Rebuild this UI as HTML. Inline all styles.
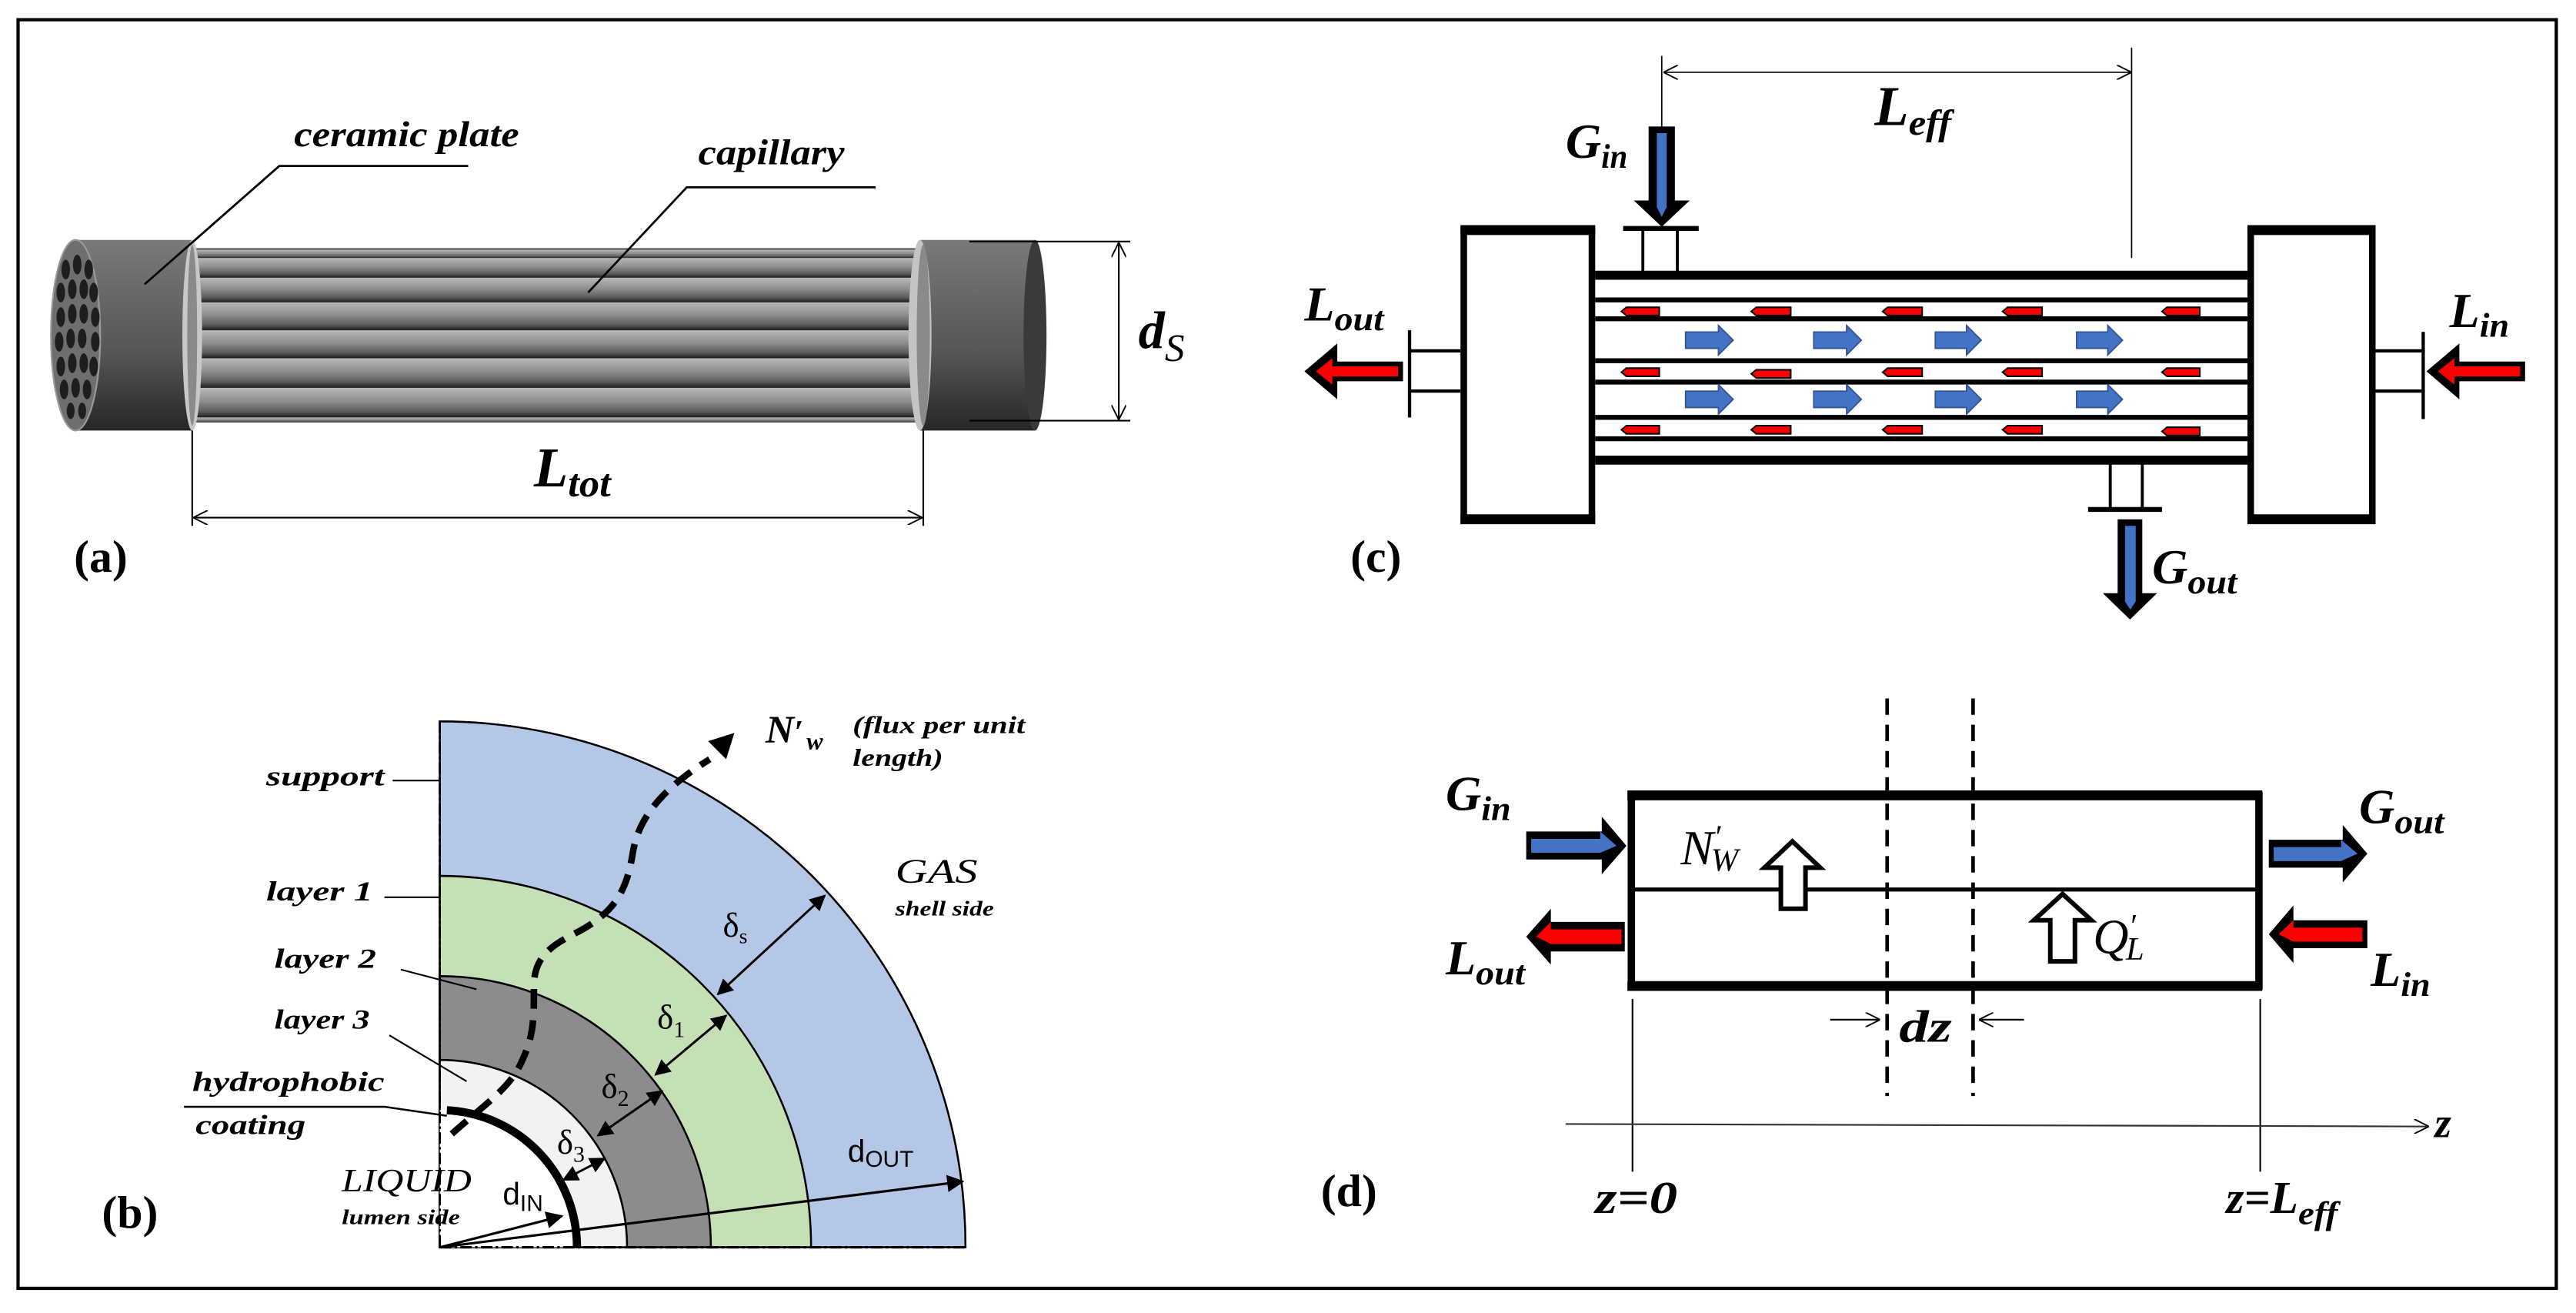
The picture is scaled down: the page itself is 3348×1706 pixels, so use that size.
<!DOCTYPE html>
<html><head><meta charset="utf-8"><style>
html,body{margin:0;padding:0;background:#fff;}
svg{display:block;}
text{font-family:"Liberation Serif",serif;}
.bi{font-style:italic;font-weight:bold;}
.it{font-style:italic;}
.sans{font-family:"Liberation Sans",sans-serif;}
</style></head><body>
<svg width="3348" height="1706" viewBox="0 0 1568 799" preserveAspectRatio="none" xmlns="http://www.w3.org/2000/svg">
<defs>
<linearGradient id="tube" x1="0" y1="0" x2="0" y2="1">
<stop offset="0" stop-color="#b8b8b8"/><stop offset="0.45" stop-color="#8e8e8e"/><stop offset="0.8" stop-color="#5c5c5c"/><stop offset="1" stop-color="#1c1c1c"/></linearGradient>
<linearGradient id="plate" x1="0" y1="0" x2="0" y2="1">
<stop offset="0" stop-color="#7a7a7a"/><stop offset="0.6" stop-color="#555"/><stop offset="1" stop-color="#262626"/></linearGradient>
<marker id="ah" viewBox="0 0 10 10" refX="9" refY="5" markerWidth="7" markerHeight="7" orient="auto-start-reverse"><path d="M0,0 L10,5 L0,10 z" fill="#000"/></marker>
<marker id="oa" viewBox="0 0 10 10" refX="9.5" refY="5" markerWidth="9" markerHeight="9" orient="auto-start-reverse" markerUnits="userSpaceOnUse"><path d="M0,0 L10,5 L0,10" fill="none" stroke="#000" stroke-width="1"/></marker>
</defs>
<rect x="0" y="0" width="1568" height="799" fill="#fff"/>
<rect x="11" y="12" width="1545" height="772" fill="none" stroke="#000" stroke-width="2"/>

<!-- Panel (a) -->
<g>
<rect x="117" y="151" width="457" height="106" fill="#555"/>
<rect x="117" y="152" width="457" height="5" fill="url(#tube)"/>
<rect x="117" y="157" width="457" height="12" fill="url(#tube)"/>
<rect x="117" y="169" width="457" height="15" fill="url(#tube)"/>
<rect x="117" y="184" width="457" height="17" fill="url(#tube)"/>
<rect x="117" y="201" width="457" height="17" fill="url(#tube)"/>
<rect x="117" y="218" width="457" height="18" fill="url(#tube)"/>
<rect x="117" y="236" width="457" height="18" fill="url(#tube)"/>
<rect x="117" y="254" width="457" height="3" fill="url(#tube)"/>
<!-- left plate -->
<rect x="46" y="146" width="71" height="116" fill="url(#plate)"/>
<ellipse cx="117" cy="204" rx="6" ry="58" fill="#c8c8c8"/>
<ellipse cx="117" cy="204" rx="3" ry="55" fill="#8a8a8a"/>
<ellipse cx="46" cy="204" rx="15" ry="58" fill="#6e6e6e" stroke="#9a9a9a" stroke-width="1"/>
<g fill="#1e1e1e">
<ellipse cx="40" cy="164" rx="2.6" ry="6"/><ellipse cx="47" cy="161" rx="2.6" ry="6"/><ellipse cx="54" cy="164" rx="2.6" ry="6"/>
<ellipse cx="37" cy="178" rx="2.6" ry="6"/><ellipse cx="44" cy="176" rx="2.6" ry="6"/><ellipse cx="51" cy="176" rx="2.6" ry="6"/><ellipse cx="57" cy="178" rx="2.6" ry="6"/>
<ellipse cx="37" cy="193" rx="2.6" ry="6"/><ellipse cx="44" cy="191" rx="2.6" ry="6"/><ellipse cx="51" cy="191" rx="2.6" ry="6"/><ellipse cx="58" cy="193" rx="2.6" ry="6"/>
<ellipse cx="36" cy="208" rx="2.6" ry="6"/><ellipse cx="43" cy="206" rx="2.6" ry="6"/><ellipse cx="50" cy="206" rx="2.6" ry="6"/><ellipse cx="58" cy="208" rx="2.6" ry="6"/>
<ellipse cx="37" cy="223" rx="2.6" ry="6"/><ellipse cx="44" cy="221" rx="2.6" ry="6"/><ellipse cx="51" cy="221" rx="2.6" ry="6"/><ellipse cx="57" cy="223" rx="2.6" ry="6"/>
<ellipse cx="39" cy="237" rx="2.6" ry="6"/><ellipse cx="46" cy="236" rx="2.6" ry="6"/><ellipse cx="53" cy="237" rx="2.6" ry="6"/>
<ellipse cx="43" cy="250" rx="2.4" ry="5"/><ellipse cx="50" cy="250" rx="2.4" ry="5"/>
</g>
<!-- right plate -->
<rect x="560" y="146" width="70" height="116" fill="url(#plate)"/>
<ellipse cx="630" cy="204" rx="7" ry="58" fill="#3a3a3a"/>
<ellipse cx="560" cy="204" rx="7" ry="58" fill="#c4c4c4"/>
<ellipse cx="562" cy="204" rx="4" ry="55" fill="#8a8a8a"/>
<!-- leaders -->
<polyline points="285,101 170,101 88,173" fill="none" stroke="#000" stroke-width="1.3"/>
<polyline points="533,114 418,114 358,178" fill="none" stroke="#000" stroke-width="1.3"/>
<text x="179" y="89" class="bi" font-size="22" textLength="137" lengthAdjust="spacingAndGlyphs">ceramic plate</text>
<text x="425" y="100" class="bi" font-size="22" textLength="89" lengthAdjust="spacingAndGlyphs">capillary</text>
<!-- ds -->
<line x1="590" y1="147" x2="688" y2="147" stroke="#000" stroke-width="1"/>
<line x1="590" y1="256" x2="688" y2="256" stroke="#000" stroke-width="1"/>
<line x1="681" y1="148" x2="681" y2="255" stroke="#000" stroke-width="1" marker-start="url(#oa)" marker-end="url(#oa)"/>
<text x="693" y="212" class="bi" font-size="32">d<tspan class="it" font-weight="normal" font-size="24" dy="8">S</tspan></text>
<!-- Ltot -->
<line x1="117" y1="262" x2="117" y2="320" stroke="#000" stroke-width="1"/>
<line x1="562" y1="262" x2="562" y2="320" stroke="#000" stroke-width="1"/>
<line x1="118" y1="315" x2="561" y2="315" stroke="#000" stroke-width="1" marker-start="url(#oa)" marker-end="url(#oa)"/>
<text x="325" y="296" class="bi" font-size="34">L<tspan font-size="24" dy="6" textLength="26" lengthAdjust="spacingAndGlyphs">tot</tspan></text>
<text x="45" y="348" font-size="28" font-weight="bold">(a)</text>
</g>

<!-- Panel (b) -->
<g>
<path d="M267.7,759 L267.7,439 A320,320 0 0 1 587.7,759 Z" fill="#b4c7e7" stroke="#000" stroke-width="1.2"/>
<path d="M267.7,759 L267.7,533 A226,226 0 0 1 493.7,759 Z" fill="#c5e0b4" stroke="#000" stroke-width="1.2"/>
<path d="M267.7,759 L267.7,594 A165,165 0 0 1 432.7,759 Z" fill="#8c8c8c" stroke="#000" stroke-width="1.2"/>
<path d="M267.7,759 L267.7,645 A114,114 0 0 1 381.7,759 Z" fill="#f2f2f2" stroke="#000" stroke-width="1.2"/>
<path d="M267.7,759 L267.7,675.5 A83.5,83.5 0 0 1 351.2,759 Z" fill="#fff" stroke="none"/>
<path d="M272,675.6 A83.5,83.5 0 0 1 351.2,759" fill="none" stroke="#000" stroke-width="5"/>
<line x1="267.7" y1="439" x2="267.7" y2="759" stroke="#000" stroke-width="1.3" stroke-dasharray="7 2 1.5 2"/>
<line x1="267.7" y1="759" x2="588" y2="759" stroke="#000" stroke-width="1.5" stroke-dasharray="7 2 1.5 2"/>
<!-- flux path -->
<path d="M275,690 C295,672 311,662 318,645 C325,630 325,620 325,600 C325,582 336,575 352,567 C372,556 381,545 385,520 C388,500 400,482 432,462" fill="none" stroke="#000" stroke-width="4" stroke-dasharray="12 7"/>
<polygon points="447,446 442,462 431,451" fill="#000"/>
<text x="466" y="452" class="bi" font-size="24">N<tspan font-size="20">′</tspan><tspan font-size="15" dy="4" dx="2">w</tspan></text>
<text x="519" y="446" class="bi" font-size="15" textLength="105" lengthAdjust="spacingAndGlyphs">(flux per unit</text>
<text x="519" y="466" class="bi" font-size="15" textLength="55" lengthAdjust="spacingAndGlyphs">length)</text>
<!-- leaders -->
<line x1="239" y1="475" x2="268" y2="475" stroke="#000" stroke-width="1"/>
<line x1="234" y1="546" x2="268" y2="546" stroke="#000" stroke-width="1"/>
<line x1="244" y1="590" x2="290" y2="602" stroke="#000" stroke-width="1"/>
<line x1="237" y1="630" x2="284" y2="658" stroke="#000" stroke-width="1"/>
<polyline points="112,673.5 234,673.5 272,679" fill="none" stroke="#000" stroke-width="1.2"/>
<text x="162" y="478" class="bi" font-size="17" textLength="72" lengthAdjust="spacingAndGlyphs">support</text>
<text x="162" y="548" class="bi" font-size="17" textLength="65" lengthAdjust="spacingAndGlyphs">layer 1</text>
<text x="167" y="589" class="bi" font-size="17" textLength="62" lengthAdjust="spacingAndGlyphs">layer 2</text>
<text x="167" y="626" class="bi" font-size="17" textLength="58" lengthAdjust="spacingAndGlyphs">layer 3</text>
<text x="117" y="664" class="bi" font-size="17" textLength="117" lengthAdjust="spacingAndGlyphs">hydrophobic</text>
<text x="119" y="690" class="bi" font-size="17" textLength="67" lengthAdjust="spacingAndGlyphs">coating</text>
<text x="545" y="537" class="it" font-size="21" textLength="50" lengthAdjust="spacingAndGlyphs">GAS</text>
<text x="545" y="557" class="bi" font-size="13" textLength="60" lengthAdjust="spacingAndGlyphs">shell side</text>
<text x="208" y="725" class="it" font-size="20" textLength="79" lengthAdjust="spacingAndGlyphs">LIQUID</text>
<text x="208" y="745" class="bi" font-size="13" textLength="72" lengthAdjust="spacingAndGlyphs">lumen side</text>
<!-- delta arrows -->
<line x1="502" y1="545" x2="437" y2="605" stroke="#000" stroke-width="1.4" marker-start="url(#ah)" marker-end="url(#ah)"/>
<line x1="442" y1="618" x2="399" y2="654" stroke="#000" stroke-width="1.4" marker-start="url(#ah)" marker-end="url(#ah)"/>
<line x1="403" y1="664" x2="364" y2="691" stroke="#000" stroke-width="1.4" marker-start="url(#ah)" marker-end="url(#ah)"/>
<line x1="368" y1="705" x2="343" y2="718" stroke="#000" stroke-width="1.4" marker-start="url(#ah)" marker-end="url(#ah)"/>
<text x="440" y="570" font-size="21">δ<tspan font-size="13" dy="4">s</tspan></text>
<text x="400" y="626" font-size="21">δ<tspan font-size="14" dy="5">1</tspan></text>
<text x="366" y="668" font-size="21">δ<tspan font-size="14" dy="5">2</tspan></text>
<text x="339" y="702" font-size="21">δ<tspan font-size="14" dy="5">3</tspan></text>
<line x1="268" y1="759" x2="586" y2="719" stroke="#000" stroke-width="1.5" marker-end="url(#ah)"/>
<line x1="268" y1="759" x2="342" y2="740" stroke="#000" stroke-width="1.5" marker-end="url(#ah)"/>
<text x="516" y="707" class="sans" font-size="19">d<tspan font-size="14" dy="3">OUT</tspan></text>
<text x="306" y="733" class="sans" font-size="19">d<tspan font-size="14" dy="4">IN</tspan></text>
<text x="62" y="747" font-size="28" font-weight="bold">(b)</text>
</g>

<!-- Panel (c) -->
<g>
<!-- Leff -->
<line x1="1011.5" y1="34" x2="1011.5" y2="77" stroke="#000" stroke-width="0.8"/>
<line x1="1297.5" y1="29" x2="1297.5" y2="157" stroke="#000" stroke-width="0.8"/>
<line x1="1013" y1="44" x2="1297" y2="44" stroke="#000" stroke-width="0.8" marker-start="url(#oa)" marker-end="url(#oa)"/>
<text x="1141" y="76" class="bi" font-size="34">L<tspan font-size="22" dy="6" textLength="26" lengthAdjust="spacingAndGlyphs">eff</tspan></text>
<!-- headers -->
<rect x="891" y="140" width="78" height="176" fill="#fff" stroke="#000" stroke-width="4"/>
<line x1="889" y1="140" x2="971" y2="140" stroke="#000" stroke-width="6"/>
<line x1="889" y1="316" x2="971" y2="316" stroke="#000" stroke-width="6"/>
<rect x="1370" y="140" width="74" height="176" fill="#fff" stroke="#000" stroke-width="4"/>
<line x1="1368" y1="140" x2="1446" y2="140" stroke="#000" stroke-width="6"/>
<line x1="1368" y1="316" x2="1446" y2="316" stroke="#000" stroke-width="6"/>
<!-- shell lines -->
<g stroke="#000">
<line x1="971" y1="167.5" x2="1368" y2="167.5" stroke-width="5.5"/>
<line x1="971" y1="182.5" x2="1368" y2="182.5" stroke-width="3"/>
<line x1="971" y1="194" x2="1368" y2="194" stroke-width="3"/>
<line x1="971" y1="219.5" x2="1368" y2="219.5" stroke-width="3"/>
<line x1="971" y1="232.5" x2="1368" y2="232.5" stroke-width="3"/>
<line x1="971" y1="254" x2="1368" y2="254" stroke-width="3"/>
<line x1="971" y1="267" x2="1368" y2="267" stroke-width="3"/>
<line x1="971" y1="280" x2="1368" y2="280" stroke-width="5.5"/>
</g>
<!-- Gin nozzle -->
<line x1="1000" y1="139" x2="1000" y2="165" stroke="#000" stroke-width="1.8"/>
<line x1="1021" y1="139" x2="1021" y2="165" stroke="#000" stroke-width="1.8"/>
<line x1="988" y1="139" x2="1034" y2="139" stroke="#000" stroke-width="3"/>
<!-- Gout nozzle -->
<line x1="1284.5" y1="282" x2="1284.5" y2="309" stroke="#000" stroke-width="1.8"/>
<line x1="1304" y1="282" x2="1304" y2="309" stroke="#000" stroke-width="1.8"/>
<line x1="1271" y1="310" x2="1316" y2="310" stroke="#000" stroke-width="3"/>
<!-- side nozzles -->
<line x1="858" y1="213.5" x2="889" y2="213.5" stroke="#000" stroke-width="2"/>
<line x1="858" y1="238" x2="889" y2="238" stroke="#000" stroke-width="2"/>
<line x1="858" y1="201" x2="858" y2="254" stroke="#000" stroke-width="2"/>
<line x1="1446" y1="213.5" x2="1476" y2="213.5" stroke="#000" stroke-width="2"/>
<line x1="1446" y1="238" x2="1476" y2="238" stroke="#000" stroke-width="2"/>
<line x1="1475" y1="202" x2="1475" y2="255" stroke="#000" stroke-width="2"/>
<!-- Gin arrow (down) -->
<polygon points="1003.5,77 1019.5,77 1019.5,122 1028.5,122 1011.5,138 994.5,122 1003.5,122" fill="#000"/>
<polygon points="1008.5,81 1014.5,81 1014.5,126 1011.5,132 1008.5,126" fill="#4472c4"/>
<!-- Gout arrow (down) -->
<polygon points="1289,316 1304,316 1304,361 1313,361 1296.5,377 1280,361 1289,361" fill="#000"/>
<polygon points="1293.5,320 1300,320 1300,366 1296.7,371 1293.5,366" fill="#4472c4"/>
<!-- Lout arrow (left) -->
<polygon points="854,220 814,220 814,209 794,226 814,243 814,232 854,232" fill="#000"/>
<polygon points="851,223 811,223 811,218 801,226 811,234 811,229 851,229" fill="#ff0000"/>
<!-- Lin arrow (left) -->
<polygon points="1537,220 1497,220 1497,209 1477,226 1497,243 1497,232 1537,232" fill="#000"/>
<polygon points="1534,223 1494,223 1494,218 1484,226 1494,234 1494,229 1534,229" fill="#ff0000"/>
<!-- red small arrows -->
<g id="reds" fill="#ff0000" stroke="#000" stroke-width="1">
<polygon points="990,187 1010,187 1010,192 990,192 987,189.5"/>
<polygon points="1069,187 1090,187 1090,192 1069,192 1066,189.5"/>
<polygon points="1149,187 1170,187 1170,192 1149,192 1146,189.5"/>
<polygon points="1222,187 1243,187 1243,192 1222,192 1219,189.5"/>
<polygon points="1319,187 1339,187 1339,192 1319,192 1316,189.5"/>
<polygon points="990,224 1010,224 1010,229 990,229 987,226.5"/>
<polygon points="1069,225 1090,225 1090,230 1069,230 1066,227.5"/>
<polygon points="1149,224 1170,224 1170,229 1149,229 1146,226.5"/>
<polygon points="1222,224 1243,224 1243,229 1222,229 1219,226.5"/>
<polygon points="1319,224 1339,224 1339,229 1319,229 1316,226.5"/>
<polygon points="990,259 1010,259 1010,264 990,264 987,261.5"/>
<polygon points="1069,259 1090,259 1090,264 1069,264 1066,261.5"/>
<polygon points="1149,259 1170,259 1170,264 1149,264 1146,261.5"/>
<polygon points="1222,259 1243,259 1243,264 1222,264 1219,261.5"/>
<polygon points="1319,260 1339,260 1339,265 1319,265 1316,262.5"/>
</g>
<!-- blue arrows -->
<g fill="#4472c4" stroke="#2f528f" stroke-width="0.8">
<polygon points="1026,202 1046,202 1046,198 1055,207 1046,216 1046,212 1026,212"/>
<polygon points="1104,202 1124,202 1124,198 1133,207 1124,216 1124,212 1104,212"/>
<polygon points="1178,202 1197,202 1197,198 1206,207 1197,216 1197,212 1178,212"/>
<polygon points="1264,202 1283,202 1283,198 1292,207 1283,216 1283,212 1264,212"/>
<polygon points="1026,238 1046,238 1046,234 1055,243 1046,252 1046,248 1026,248"/>
<polygon points="1104,238 1124,238 1124,234 1133,243 1124,252 1124,248 1104,248"/>
<polygon points="1178,238 1197,238 1197,234 1206,243 1197,252 1197,248 1178,248"/>
<polygon points="1264,238 1283,238 1283,234 1292,243 1283,252 1283,248 1264,248"/>
</g>
<text x="953" y="96" class="bi" font-size="30">G<tspan font-size="21" dy="6" textLength="16" lengthAdjust="spacingAndGlyphs">in</tspan></text>
<text x="794" y="195" class="bi" font-size="30">L<tspan font-size="21" dy="6" textLength="30" lengthAdjust="spacingAndGlyphs">out</tspan></text>
<text x="1491" y="199" class="bi" font-size="30">L<tspan font-size="21" dy="6" textLength="18" lengthAdjust="spacingAndGlyphs">in</tspan></text>
<text x="1310" y="355" class="bi" font-size="30">G<tspan font-size="21" dy="6" textLength="30" lengthAdjust="spacingAndGlyphs">out</tspan></text>
<text x="822" y="348" font-size="28" font-weight="bold">(c)</text>
</g>

<!-- Panel (d) -->
<g>
<line x1="1148.7" y1="425" x2="1148.7" y2="667" stroke="#000" stroke-width="2.2" stroke-dasharray="10 6"/>
<line x1="1201" y1="425" x2="1201" y2="667" stroke="#000" stroke-width="2.2" stroke-dasharray="10 6"/>
<rect x="993" y="484" width="382" height="116" fill="none" stroke="#000" stroke-width="4.5"/>
<line x1="990.6" y1="484" x2="1377" y2="484" stroke="#000" stroke-width="6"/>
<line x1="990.6" y1="600" x2="1377" y2="600" stroke="#000" stroke-width="6"/>
<line x1="993" y1="541.3" x2="1375" y2="541.3" stroke="#000" stroke-width="2.5"/>
<!-- dz -->
<line x1="1114" y1="620.5" x2="1144" y2="620.5" stroke="#000" stroke-width="1" marker-end="url(#oa)"/>
<line x1="1232" y1="620.5" x2="1205" y2="620.5" stroke="#000" stroke-width="1" marker-end="url(#oa)"/>
<text x="1156" y="634" class="bi" font-size="28" textLength="32" lengthAdjust="spacingAndGlyphs">dz</text>
<!-- z axis -->
<line x1="993.7" y1="608" x2="993.7" y2="713" stroke="#000" stroke-width="1"/>
<line x1="1375.8" y1="608" x2="1375.8" y2="713" stroke="#000" stroke-width="1"/>
<line x1="953" y1="684" x2="1478" y2="685.5" stroke="#333" stroke-width="1" marker-end="url(#oa)"/>
<text x="1482" y="692" class="bi" font-size="26">z</text>
<text x="971" y="738" class="bi" font-size="28" textLength="50" lengthAdjust="spacingAndGlyphs">z=0</text>
<text x="1355" y="738" class="bi" font-size="28">z=L<tspan font-size="20" dy="7" textLength="24" lengthAdjust="spacingAndGlyphs">eff</tspan></text>
<text x="804" y="734" font-size="28" font-weight="bold">(d)</text>
<!-- flow arrows -->
<polygon points="929,506 975,506 975,497 990,514.7 975,532 975,523 929,523" fill="#000"/>
<polygon points="932,510.5 974,510.5 974,506 984,514.7 974,519 932,519" fill="#4472c4"/>
<polygon points="1381,511 1426,511 1426,502 1441,519.5 1426,537 1426,528 1381,528" fill="#000"/>
<polygon points="1384,515.5 1425,515.5 1425,511 1435,519.5 1425,524 1384,524" fill="#4472c4"/>
<polygon points="989,561 944,561 944,553 929,570 944,587 944,579 989,579" fill="#000"/>
<polygon points="987,565.5 944,565.5 944,561 935,570 944,574.5 987,574.5" fill="#ff0000"/>
<polygon points="1441,560 1396,560 1396,551 1381,568.5 1396,586 1396,577 1441,577" fill="#000"/>
<polygon points="1438,564.5 1396,564.5 1396,560 1387,568.5 1396,573 1438,573" fill="#ff0000"/>
<!-- hollow up arrows -->
<polygon points="1091,512 1108,528 1099,528 1099,553 1084,553 1084,528 1074,528" fill="#fff" stroke="#000" stroke-width="2.8" stroke-linejoin="miter"/>
<polygon points="1255.5,544 1273,560 1263,560 1263,585 1248,585 1248,560 1238,560" fill="#fff" stroke="#000" stroke-width="2.8"/>
<text x="1023" y="526" class="it" font-size="30">N<tspan font-size="20" dy="-10">′</tspan><tspan font-size="20" dy="14" dx="-6">W</tspan></text>
<text x="1274" y="580" class="it" font-size="30">Q<tspan font-size="20" dy="-10">′</tspan><tspan font-size="20" dy="14" dx="-6">L</tspan></text>
<text x="880" y="493" class="bi" font-size="30">G<tspan font-size="21" dy="6" textLength="18" lengthAdjust="spacingAndGlyphs">in</tspan></text>
<text x="1436" y="501" class="bi" font-size="30">G<tspan font-size="21" dy="6" textLength="30" lengthAdjust="spacingAndGlyphs">out</tspan></text>
<text x="880" y="593" class="bi" font-size="30">L<tspan font-size="21" dy="6" textLength="30" lengthAdjust="spacingAndGlyphs">out</tspan></text>
<text x="1443" y="600" class="bi" font-size="30">L<tspan font-size="21" dy="6" textLength="18" lengthAdjust="spacingAndGlyphs">in</tspan></text>
</g>
</svg>
</body></html>
